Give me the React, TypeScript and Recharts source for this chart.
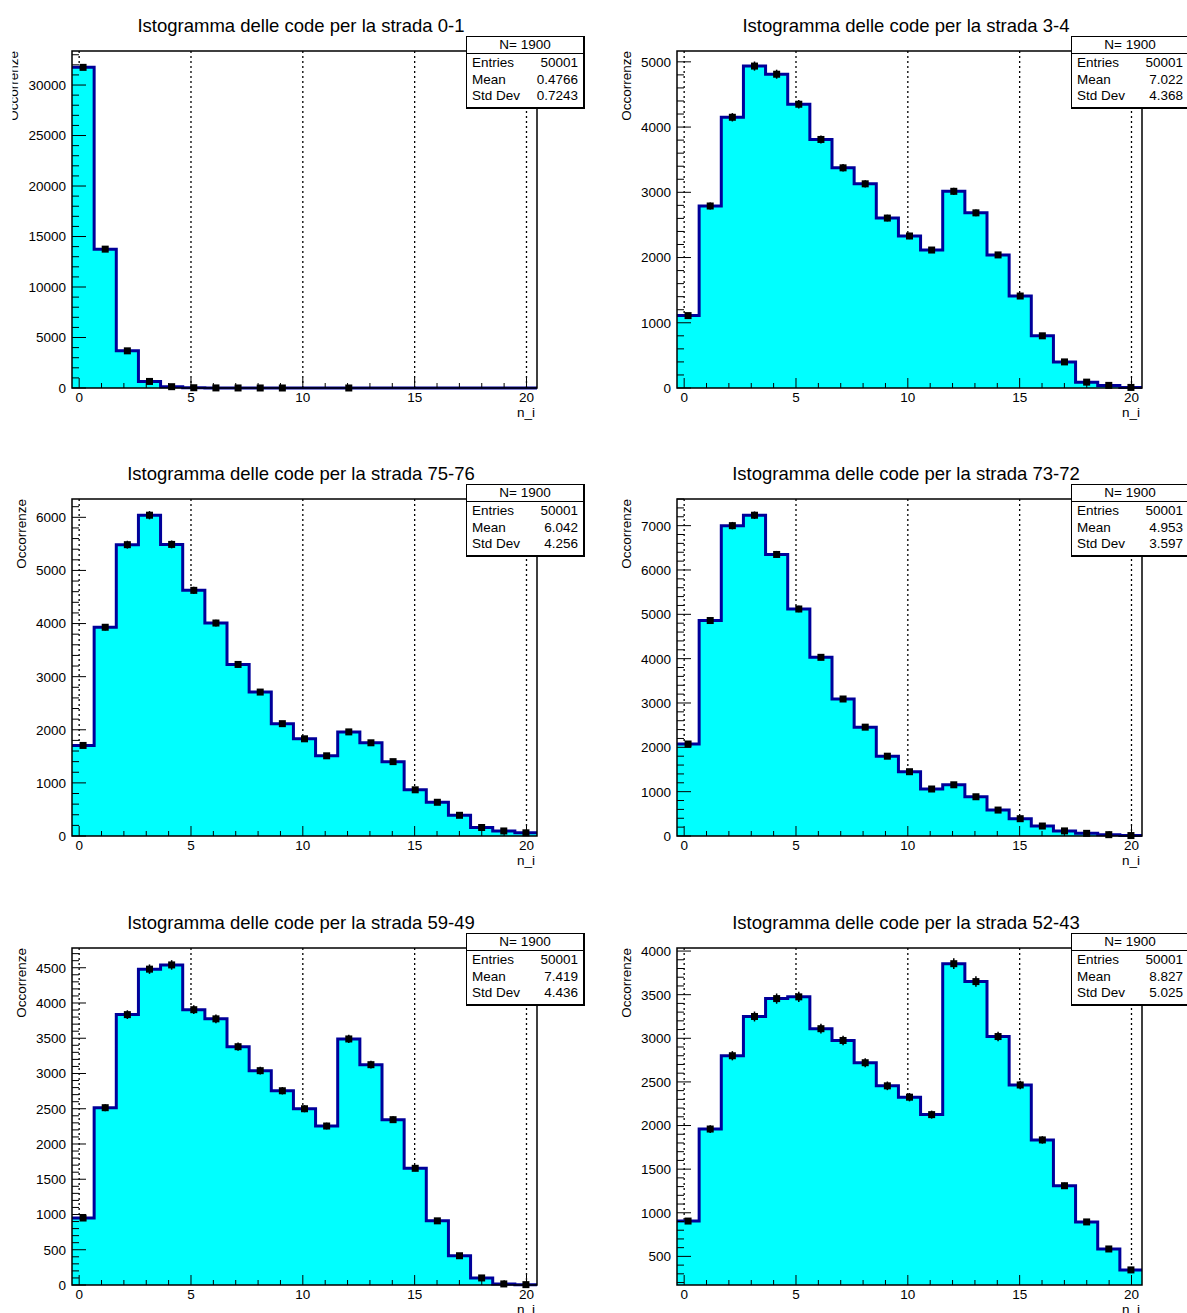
import {
  Area,
  CartesianGrid,
  ComposedChart,
  ErrorBar,
  Label,
  ReferenceArea,
  Scatter,
  XAxis,
  YAxis,
} from 'recharts';

const FONT = '"Liberation Sans", Arial, Helvetica, sans-serif';

// 21 bins: first edge at -0.32, each 0.99 wide
const BIN_LO = -0.32;
const BIN_W = 0.99;
const N_BINS = 21;
const X_LO = BIN_LO;
const X_HI = BIN_LO + N_BINS * BIN_W;

const xTicks = [0, 1, 2, 3, 4, 5, 6, 7, 8, 9, 10, 11, 12, 13, 14, 15, 16, 17, 18, 19, 20];
const xMajorTicks = [0, 5, 10, 15, 20];

// bin contents per road
const counts01 = [31750, 13750, 3680, 650, 130, 25, 8, 4, 2, 1, 0, 0, 1, 0, 0, 0, 0, 0, 0, 0, 0];
const counts34 = [1110, 2790, 4150, 4935, 4810, 4350, 3810, 3375, 3130, 2605, 2330, 2115, 3015, 2685, 2040, 1410, 800, 400, 90, 40, 9];
const counts7576 = [1705, 3930, 5485, 6040, 5490, 4625, 4010, 3230, 2710, 2115, 1830, 1510, 1960, 1755, 1400, 870, 635, 390, 160, 95, 60];
const counts7372 = [2075, 4860, 7000, 7235, 6350, 5120, 4030, 3090, 2455, 1800, 1450, 1060, 1155, 885, 585, 390, 225, 115, 60, 30, 10];
const counts5949 = [950, 2515, 3835, 4480, 4540, 3905, 3775, 3380, 3040, 2755, 2500, 2255, 3490, 3125, 2345, 1655, 910, 415, 100, 15, 5];
const counts5243 = [905, 1960, 2800, 3250, 3455, 3475, 3110, 2975, 2720, 2455, 2325, 2125, 3855, 3650, 3020, 2465, 1835, 1310, 895, 585, 345];

const titles = [
  'Istogramma delle code per la strada 0-1',
  'Istogramma delle code per la strada 3-4',
  'Istogramma delle code per la strada 75-76',
  'Istogramma delle code per la strada 73-72',
  'Istogramma delle code per la strada 59-49',
  'Istogramma delle code per la strada 52-43',
];

// y axis: labelled ticks, minor tick step, range
const yMajor01 = [0, 5000, 10000, 15000, 20000, 25000, 30000];
const yMajor34 = [0, 1000, 2000, 3000, 4000, 5000];
const yMajor7576 = [0, 1000, 2000, 3000, 4000, 5000, 6000];
const yMajor7372 = [0, 1000, 2000, 3000, 4000, 5000, 6000, 7000];
const yMajor5949 = [0, 500, 1000, 1500, 2000, 2500, 3000, 3500, 4000, 4500];
const yMajor5243 = [500, 1000, 1500, 2000, 2500, 3000, 3500, 4000];
const yMinorStep = [1000, 200, 200, 200, 100, 100];
const yRange = [
  [0, 33370],
  [0, 5166],
  [0, 6345],
  [0, 7601],
  [0, 4780],
  [172, 4035],
];

const entries = ['50001', '50001', '50001', '50001', '50001', '50001'];
const means = ['0.4766', '7.022', '6.042', '4.953', '7.419', '8.827'];
const stdDevs = ['0.7243', '4.368', '4.256', '3.597', '4.436', '5.025'];

const allCounts = [counts01, counts34, counts7576, counts7372, counts5949, counts5243];
const allMajor = [yMajor01, yMajor34, yMajor7576, yMajor7372, yMajor5949, yMajor5243];

// layout
const W = 593;
const H = 448;
const COL_X = [0, 605];
const ROW_Y = [0, 448, 897];
const Y_TITLE_X = [18, 25.5, 26, 25.5, 26, 25.5];
const Y_TITLE_CLIP = [12.5, 0, 0, 0, 0, 0];

const HIST_FILL = '#00ffff';
const HIST_LINE = '#000099';

const stepPoints = (counts: number[]) => {
  const pts = counts.map((c, i) => ({ x: BIN_LO + i * BIN_W, y: c }));
  pts.push({ x: BIN_LO + counts.length * BIN_W, y: counts[counts.length - 1] });
  return pts;
};

const markerPoints = (counts: number[]) =>
  counts
    .map((c, i) => ({ x: BIN_LO + (i + 0.5) * BIN_W, y: c, err: Math.sqrt(c) }))
    .filter((p) => p.y > 0);

const minorTicks = (lo: number, hi: number, step: number) => {
  const out: number[] = [];
  for (let v = Math.ceil(lo / step) * step; v <= hi; v += step) out.push(v);
  return out;
};

const isMultiple = (v: number, step: number) => Math.abs(v / step - Math.round(v / step)) < 1e-6;

const XTick = (props: any) => {
  const { x, y, payload } = props;
  const major = xMajorTicks.includes(payload.value);
  return (
    <g>
      <line x1={x} x2={x} y1={y} y2={y - (major ? 10 : 5)} stroke="#000" />
      {major && (
        <text x={x} y={y + 14} textAnchor="middle" fontSize={13.5} fontFamily={FONT} fill="#000">
          {payload.value}
        </text>
      )}
    </g>
  );
};

const makeYTick = (majorStep: number) => (props: any) => {
  const { x, y, payload } = props;
  const major = isMultiple(payload.value, majorStep);
  return (
    <g>
      <line x1={x} x2={x + (major ? 14 : 7)} y1={y} y2={y} stroke="#000" />
      {major && (
        <text x={x - 6} y={y} dy="0.36em" textAnchor="end" fontSize={13.5} fontFamily={FONT} fill="#000">
          {payload.value}
        </text>
      )}
    </g>
  );
};

const makeYTitle = (offsetX: number, clipX: number, id: string) => (props: any) => {
  const vb = props.viewBox ?? { x: 0, y: 51 };
  const bx = vb.x + offsetX;
  return (
    <g clipPath={`url(#${id})`}>
      <defs>
        <clipPath id={id}>
          <rect x={clipX} y={0} width={200} height={H} />
        </clipPath>
      </defs>
      <text
        x={bx}
        y={vb.y}
        transform={`rotate(-90 ${bx} ${vb.y})`}
        textAnchor="end"
        fontSize={13.5}
        fontFamily={FONT}
        fill="#000"
      >
        Occorrenze
      </text>
    </g>
  );
};

const renderXTitle = (props: any) => {
  const vb = props.viewBox ?? { x: 72, y: 388, width: 465 };
  return (
    <text x={vb.x + vb.width - 2} y={vb.y + 29} textAnchor="end" fontSize={13.5} fontFamily={FONT} fill="#000">
      n_i
    </text>
  );
};

const squareMarker = (props: any) => (
  <rect x={props.cx - 3.5} y={props.cy - 3.5} width={7} height={7} fill="#000" />
);

const StatsBox = ({ entry, mean, std }: { entry: string; mean: string; std: string }) => {
  const row = { display: 'flex', justifyContent: 'space-between', lineHeight: '16.5px' } as const;
  return (
    <div
      style={{
        position: 'absolute',
        left: 466,
        top: 36,
        width: 116,
        background: '#fff',
        borderTop: '1px solid #000',
        borderLeft: '1px solid #000',
        borderRight: '2px solid #000',
        borderBottom: '2px solid #000',
        fontSize: 13.5,
        fontFamily: FONT,
        color: '#000',
      }}
    >
      <div style={{ textAlign: 'center', lineHeight: '16px', borderBottom: '1px solid #000' }}>N= 1900</div>
      <div style={{ padding: '1px 5px 2px 5px' }}>
        <div style={row}>
          <span>Entries</span>
          <span>{entry}</span>
        </div>
        <div style={row}>
          <span>Mean</span>
          <span>{mean}</span>
        </div>
        <div style={row}>
          <span>Std Dev</span>
          <span>{std}</span>
        </div>
      </div>
    </div>
  );
};

const Panel = ({ idx }: { idx: number }) => {
  const counts = allCounts[idx];
  const [yMin, yMax] = yRange[idx];
  const major = allMajor[idx];
  const majorStep = major[1] - major[0];
  const yTicks = minorTicks(yMin, yMax, yMinorStep[idx]);
  return (
    <div style={{ position: 'absolute', left: COL_X[idx % 2], top: ROW_Y[Math.floor(idx / 2)], width: W, height: H }}>
      <div
        style={{
          position: 'absolute',
          left: 0,
          top: 15,
          width: 602,
          textAlign: 'center',
          fontSize: 18.5,
          lineHeight: '21px',
          fontFamily: FONT,
          color: '#000',
          whiteSpace: 'nowrap',
        }}
      >
        {titles[idx]}
      </div>
      <ComposedChart width={W} height={H} margin={{ top: 51, right: 56, bottom: 0, left: 0 }}>
        <CartesianGrid
          horizontal={false}
          verticalValues={xMajorTicks}
          stroke="#000"
          strokeWidth={1.3}
          strokeDasharray="2 3"
        />
        <XAxis
          type="number"
          dataKey="x"
          domain={[X_LO, X_HI]}
          ticks={xTicks}
          interval={0}
          height={60}
          tickSize={0}
          tickMargin={0}
          axisLine={false}
          tick={XTick}
          label={<Label content={renderXTitle} />}
        />
        <YAxis
          type="number"
          dataKey="y"
          domain={[yMin, yMax]}
          ticks={yTicks}
          interval={0}
          width={72}
          tickSize={0}
          tickMargin={0}
          axisLine={false}
          tick={makeYTick(majorStep)}
          label={<Label content={makeYTitle(Y_TITLE_X[idx], Y_TITLE_CLIP[idx], `ytitle-clip-${idx}`)} />}
        />
        <Area
          data={stepPoints(counts)}
          dataKey="y"
          type="stepAfter"
          stroke={HIST_LINE}
          strokeWidth={3}
          fill={HIST_FILL}
          fillOpacity={1}
          dot={false}
          activeDot={false}
          isAnimationActive={false}
        />
        <Scatter data={markerPoints(counts)} dataKey="y" shape={squareMarker} isAnimationActive={false}>
          <ErrorBar dataKey="err" direction="y" width={0} stroke="#000" strokeWidth={1.5} />
        </Scatter>
        <ReferenceArea x1={X_LO} x2={X_HI} y1={yMin} y2={yMax} fill="none" stroke="#000" strokeWidth={1.5} />
      </ComposedChart>
      <StatsBox entry={entries[idx]} mean={means[idx]} std={stdDevs[idx]} />
    </div>
  );
};

export default function App() {
  return (
    <div
      style={{
        position: 'absolute',
        left: 0,
        top: 0,
        width: 1187,
        height: 1313,
        overflow: 'hidden',
        background: '#fff',
      }}
    >
      {titles.map((_, i) => (
        <Panel key={i} idx={i} />
      ))}
    </div>
  );
}
